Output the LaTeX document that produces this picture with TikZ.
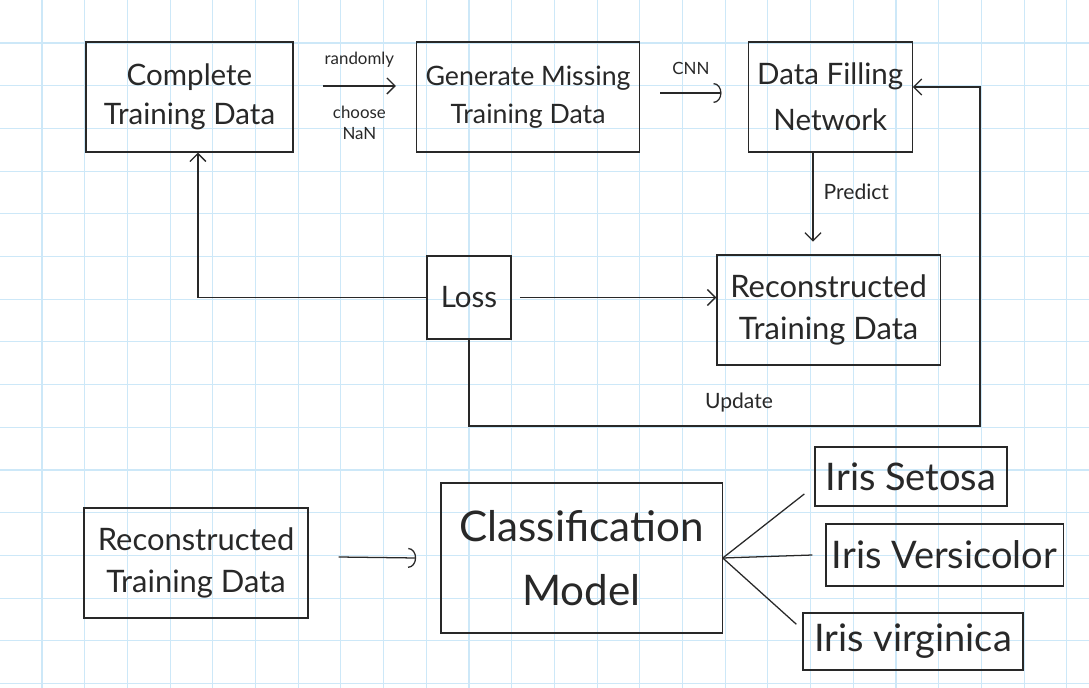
\documentclass[tikz,border=0pt]{standalone}
\usepackage{fontspec}
\setmainfont{Lato}
\usepackage{xcolor}
\usepackage{tikz}
\usetikzlibrary{arrows.meta,positioning}
\definecolor{ink}{RGB}{40,40,40}
\definecolor{gridblue}{RGB}{205,232,248}

\begin{document}
\begin{tikzpicture}[
        x=0.025cm, y=-0.025cm,
        every node/.style={text=ink},
        box/.style={draw=ink, line width=0.9pt, inner sep=0, align=center, font=\fontsize{21}{28}\selectfont},
        lbl/.style={inner sep=0, align=center, font=\fontsize{12}{15}\selectfont},
        link/.style={draw=ink, line width=0.9pt},
        arr/.style={link, -{Straight Barb[length=2mm,width=4mm]}},
        hook/.style={link, -{Arc Barb[length=2mm,width=5mm]}},
        gridline/.style={draw=gridblue, line width=0.8pt},
    ]
        % paper
        \fill [white] (0,0) rectangle (1089,688);
        \useasboundingbox (0,0) rectangle (1089,688);
        \foreach \k in {0,...,24} \draw [gridline] ({42+42.7*\k},0) -- ++(0,688);
        \foreach \k in {0,...,15} \draw [gridline] (0,{43+42.7*\k}) -- ++(1089,0);

        % training loop
        \node [box, minimum width=5.18cm, minimum height=2.75cm] (complete) at (189.5,97) {Complete\\Training Data};
        \node [box, minimum width=5.58cm, minimum height=2.75cm, right=3.05cm of complete, font=\fontsize{19}{27}\selectfont] (generate) {Generate Missing\\Training Data};
        \node [box, minimum width=4.1cm, minimum height=2.75cm, right=2.68cm of generate, font=\fontsize{21}{33}\selectfont] (filling) {Data Filling\\Network};
        \node [box, minimum width=5.58cm, minimum height=2.75cm, font=\fontsize{22}{30}\selectfont] (recon) at (828.5,310) {Reconstructed\\Training Data};
        \node [box, minimum width=2.1cm, minimum height=2.08cm] (loss) at (469,297.5) {Loss};
        \coordinate (turn) at (980,426);

        \draw [arr] ([xshift=7.3mm,yshift=2.75mm]complete.east) -- ([xshift=-5mm,yshift=2.75mm]generate.west)
            node [lbl, midway, yshift=6.5mm] {randomly}
            node [lbl, midway, yshift=-9.2mm] {choose\\NaN};
        \draw [hook] ([xshift=5mm,yshift=1mm]generate.east) -- ([xshift=-6.5mm,yshift=1mm]filling.west)
            node [lbl, midway, yshift=6.2mm] {CNN};
        \draw [arr, shorten >=3.2mm] ([xshift=-4.3mm]filling.south) -- ([xshift=-4.3mm]filling.south |- recon.north)
            node [lbl, midway, right=2.5mm, yshift=3mm, font=\fontsize{15}{18}\selectfont] {Predict};
        \draw [arr] (loss.west) -| ([xshift=2.1mm]complete.south);
        \draw [arr] ([xshift=2.2mm]loss.east) -- (loss.east -| recon.west);
        \draw [arr] (loss.south) |- (turn) |- ([yshift=2.5mm]filling.east);
        \node [lbl, font=\fontsize{15}{18}\selectfont] (update) at (739,403) {Update};

        % classification
        \node [box, minimum width=5.6cm, minimum height=2.75cm, font=\fontsize{22}{30}\selectfont] (recon2) at (196,563) {Reconstructed\\Training Data};
        \node [box, minimum width=7.03cm, minimum height=3.75cm, font=\fontsize{30}{46}\selectfont] (classify) at (581.5,558) {Classification\\Model};
        \node [box, minimum width=4.8cm, minimum height=1.48cm, font=\fontsize{27}{32}\selectfont] (setosa) at (911,476.5) {Iris Setosa};
        \node [box, minimum width=5.93cm, minimum height=1.55cm, font=\fontsize{27}{32}\selectfont] (versicolor) at (944.5,555) {Iris Versicolor};
        \node [box, minimum width=5.5cm, minimum height=1.43cm, font=\fontsize{27}{32}\selectfont] (virginica) at (913,641.5) {Iris virginica};

        \draw [hook] ([xshift=7.5mm,yshift=1.5mm]recon2.east) -- ([xshift=-6mm]classify.west);
        \draw [link] (classify.east) -- ([xshift=-2.5mm,yshift=3.2mm]setosa.south west);
        \draw [link] (classify.east) -- ([xshift=-3.2mm]versicolor.west);
        \draw [link] (classify.east) -- ([xshift=-1.5mm,yshift=-3mm]virginica.north west);
\end{tikzpicture}
\end{document}
